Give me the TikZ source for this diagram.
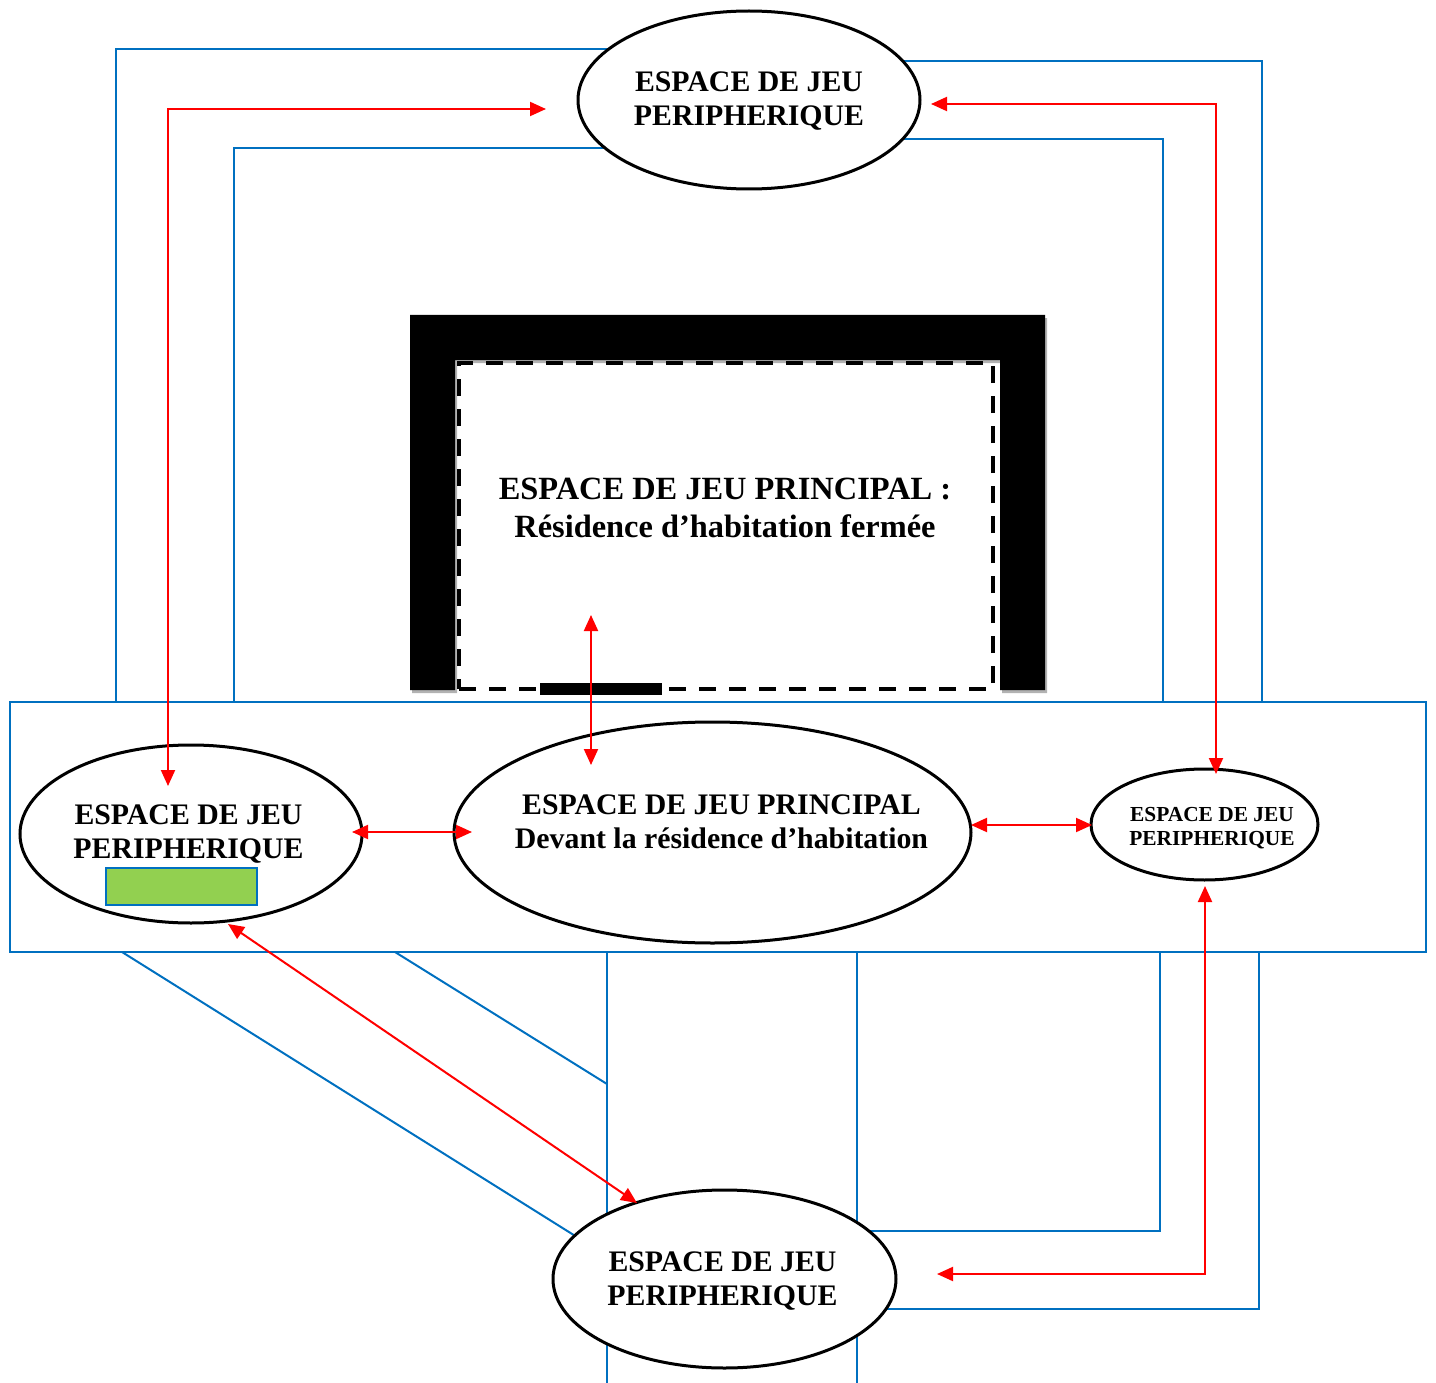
\documentclass[tikz,border=0pt]{standalone}
\usepackage{fontspec}
\setmainfont{Liberation Serif}
\usetikzlibrary{shapes.geometric,arrows.meta}
\definecolor{bl}{HTML}{0070C0}
\definecolor{rd}{HTML}{FF0000}
\definecolor{gr}{HTML}{92D050}
\begin{document}
\begin{tikzpicture}[x=1pt,y=-1pt,
  corr/.style={draw=bl,line width=2pt},
  link/.style={draw=rd,line width=2pt,{Triangle[length=16pt,width=14pt]}-{Triangle[length=16pt,width=14pt]}},
  zone/.style={ellipse,draw,line width=3pt,fill=white,inner sep=0pt},
  lbl/.style={align=center,font=\bfseries\fontsize{29.8}{34}\selectfont,inner sep=0pt},
  smalllbl/.style={align=center,font=\bfseries\fontsize{21.4}{24}\selectfont,inner sep=0pt},
  biglbl/.style={align=center,font=\bfseries\fontsize{32.4}{38}\selectfont,inner sep=0pt}]
\useasboundingbox (0,0) rectangle (1436,1383);
% corridors (blue)
\draw[corr] (116,702) -- (116,49) -- (749,49);
\draw[corr] (234,702) -- (234,148) -- (749,148);
\draw[corr] (749,61) -- (1262,61) -- (1262,702);
\draw[corr] (749,139) -- (1163,139) -- (1163,702);
\draw[corr] (122,952) -- (620,1264);
\draw[corr] (395,952) -- (607,1084);
\draw[corr] (607,952) -- (607,1383);
\draw[corr] (857,952) -- (857,1383);
\draw[corr] (1160,952) -- (1160,1231) -- (724,1231);
\draw[corr] (1259,952) -- (1259,1309) -- (724,1309);
\node[draw=bl,line width=2pt,minimum width=1416pt,minimum height=250pt,inner sep=0pt] (front) at (718,827) {};
% closed residence
\fill[gray!60,shift={(2,3)}] (410,690) -- (410,315) -- (1045,315) -- (1045,690) -- (1000,690) -- (1000,360) -- (455,360) -- (455,690) -- cycle;
\fill[black] (410,690) -- (410,315) -- (1045,315) -- (1045,690) -- (1000,690) -- (1000,360) -- (455,360) -- (455,690) -- cycle;
\node[draw,line width=4.5pt,dash pattern=on 17pt off 13pt,minimum width=534pt,minimum height=326pt,inner sep=0pt] (room) at (726,526) {};
\node[fill=black,minimum width=122pt,minimum height=12pt,inner sep=0pt] (door) at (601,689) {};
% play spaces
\node[zone,minimum width=342pt,minimum height=178pt] (top) at (749,100) {};
\node[zone,minimum width=342pt,minimum height=178pt] (left) at (191,834) {};
\node[zone,minimum width=517pt,minimum height=221pt] (mid) at (712.5,832.5) {};
\node[zone,minimum width=227pt,minimum height=111pt] (right) at (1204.5,824.5) {};
\node[zone,minimum width=343pt,minimum height=178pt] (bot) at (724.5,1279) {};
\node[draw=bl,fill=gr,line width=2pt,minimum width=151pt,minimum height=37pt,inner sep=0pt] (green) at (181.5,886.5) {};
% texts
\node[lbl] (toptxt) at (749,101.5) {ESPACE DE JEU\\PERIPHERIQUE};
\node[lbl] (lefttxt) at (188.5,834.5) {ESPACE DE JEU\\PERIPHERIQUE};
\node[lbl] (midtxt) at (721.5,822) {ESPACE DE JEU PRINCIPAL\\Devant la résidence d’habitation};
\node[smalllbl] (righttxt) at (1212,828) {ESPACE DE JEU\\PERIPHERIQUE};
\node[lbl] (bottxt) at (722.5,1281) {ESPACE DE JEU\\PERIPHERIQUE};
\node[biglbl] (roomtxt) at (725,508) {ESPACE DE JEU PRINCIPAL :\\Résidence d’habitation fermée};
% red links
\coordinate (l1) at (168,786);
\coordinate (t1) at (546,109);
\coordinate (t2) at (931,104);
\coordinate (r1) at (1216,774);
\coordinate (l2) at (352,832);
\coordinate (m1) at (472,832);
\coordinate (m2) at (971,825);
\coordinate (r2) at (1092,825);
\coordinate (m3) at (591,765);
\coordinate (h1) at (591,615);
\coordinate (l3) at (228,924);
\coordinate (b1) at (637,1203);
\coordinate (r3) at (1205,886);
\coordinate (b2) at (937,1274);
\draw[link] (l1) |- (t1);
\draw[link] (t2) -| (r1);
\draw[link] (l2) -- (m1);
\draw[link] (m2) -- (r2);
\draw[link] (h1) -- (m3);
\draw[link] (l3) -- (b1);
\draw[link] (r3) |- (b2);
\end{tikzpicture}
\end{document}
